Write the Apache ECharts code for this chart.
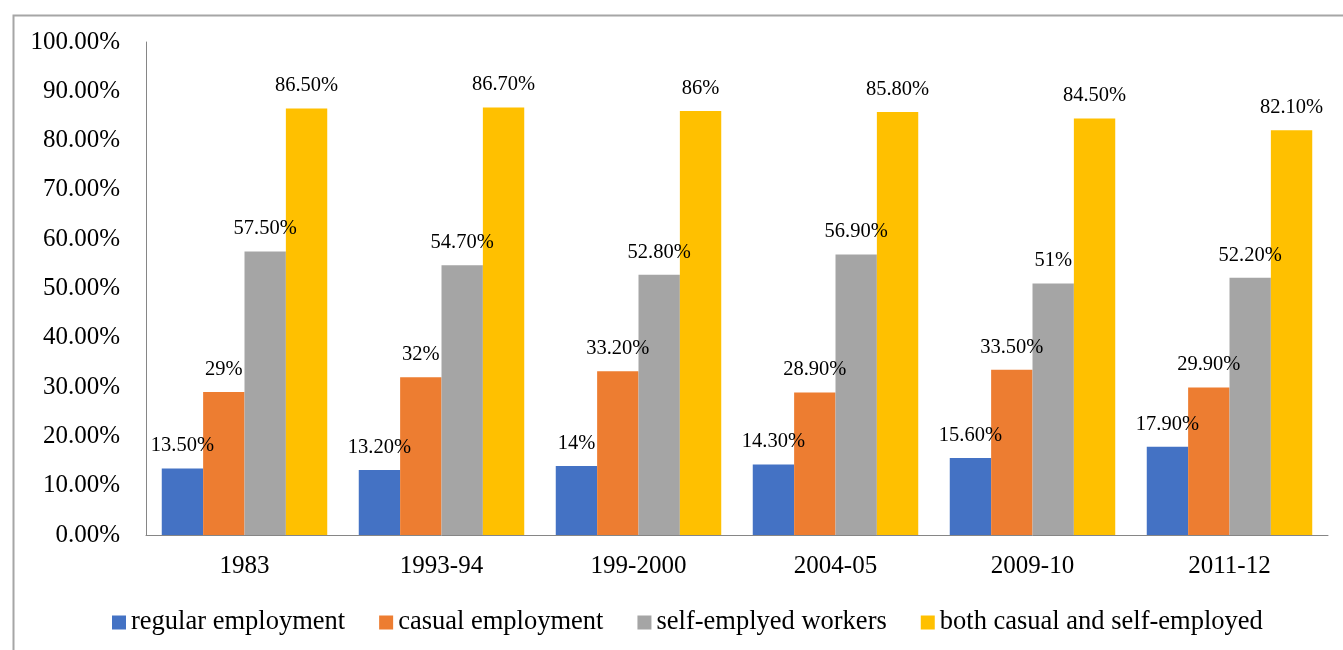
<!DOCTYPE html>
<html>
<head>
<meta charset="utf-8">
<script src="https://cdn.jsdelivr.net/npm/echarts@6/dist/echarts.min.js"></script>
<style>
  html, body { margin: 0; padding: 0; background: #ffffff; }
  #chart { width: 1343px; height: 650px; }
</style>
</head>
<body>
<div id="chart"></div>
<script>
// Periods on the x axis
const periods = ['1983', '1993-94', '199-2000', '2004-05', '2009-10', '2011-12'];

// Share of workers (%) in each employment type
const regularEmployment = [13.5, 13.2, 14, 14.3, 15.6, 17.9];
const casualEmployment = [29, 32, 33.2, 28.9, 33.5, 29.9];
const selfEmployed = [57.5, 54.7, 52.8, 56.9, 51, 52.2];
const casualAndSelf = [86.5, 86.7, 86, 85.8, 84.5, 82.1];

const seriesNames = ['regular employment', 'casual employment', 'self-emplyed workers', 'both casual and self-employed'];
const seriesColors = ['#4472C4', '#ED7D31', '#A5A5A5', '#FFC000'];

const FONT = '"Liberation Serif", "Times New Roman", serif';

// Whole numbers print bare, others with two decimals
function pct(v) {
  return Number.isInteger(v) ? v + '%' : v.toFixed(2) + '%';
}

const chart = echarts.init(document.getElementById('chart'), null, { renderer: 'canvas' });

const makeSeries = (name, data, color) => ({
  name: name,
  type: 'bar',
  data: data,
  barGap: '0%',
  barCategoryGap: '16%',
  itemStyle: { color: color },
  label: {
    show: true,
    position: 'top',
    distance: 12,
    color: '#000',
    fontFamily: FONT,
    fontSize: 20.5,
    formatter: p => pct(p.value)
  },
  emphasis: { disabled: true }
});

chart.setOption({
  backgroundColor: '#ffffff',
  animation: false,
  textStyle: { fontFamily: FONT },
  graphic: [{
    type: 'rect',
    left: 11,
    top: 13,
    shape: { x: 0, y: 0, width: 1400, height: 700 },
    style: { fill: 'none', stroke: '#a6a6a6', lineWidth: 2 },
    silent: true
  }],
  grid: { left: 146, right: 15, top: 42, bottom: 115, containLabel: false },
  legend: {
    bottom: 9,
    left: 107,
    icon: 'rect',
    itemWidth: 14,
    itemHeight: 14,
    itemGap: 34,
    data: seriesNames,
    textStyle: { fontFamily: FONT, fontSize: 26.5, color: '#000' },
    selectedMode: false
  },
  xAxis: {
    type: 'category',
    data: periods,
    axisLine: { lineStyle: { color: '#868686', width: 1 } },
    axisTick: { show: false },
    axisLabel: { color: '#000', fontFamily: FONT, fontSize: 25, margin: 19 }
  },
  yAxis: {
    type: 'value',
    min: 0,
    max: 100,
    interval: 10,
    splitLine: { show: false },
    axisLine: { show: true, lineStyle: { color: '#868686', width: 1 } },
    axisTick: { show: false },
    axisLabel: {
      color: '#000',
      fontFamily: FONT,
      fontSize: 25,
      margin: 26,
      formatter: v => v.toFixed(2) + '%'
    }
  },
  series: [
    makeSeries(seriesNames[0], regularEmployment, seriesColors[0]),
    makeSeries(seriesNames[1], casualEmployment, seriesColors[1]),
    makeSeries(seriesNames[2], selfEmployed, seriesColors[2]),
    makeSeries(seriesNames[3], casualAndSelf, seriesColors[3])
  ]
});
</script>
</body>
</html>
